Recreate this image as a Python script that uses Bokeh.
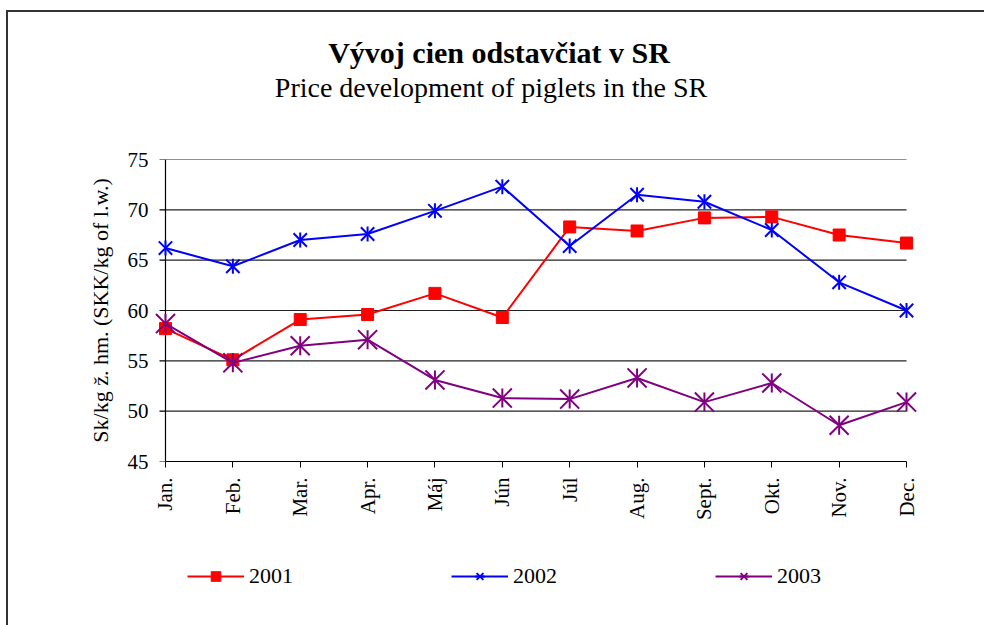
import math
from bokeh.plotting import figure
from bokeh.layouts import column
from bokeh.models import (Range1d, FixedTicker, LinearAxis, Legend, LegendItem,
                          Div, ColumnDataSource)
from bokeh.embed import file_html
from bokeh.resources import INLINE

# ---- data ----
months = ["Jan.", "Feb.", "Mar.", "Apr.", "Máj", "Jún", "Júl", "Aug.",
          "Sept.", "Okt.", "Nov.", "Dec."]
y2001 = [58.2, 55.1, 59.1, 59.6, 61.7, 59.3, 68.3, 67.9, 69.2, 69.3, 67.5, 66.7]
y2002 = [66.2, 64.4, 67.0, 67.6, 69.9, 72.3, 66.4, 71.5, 70.8, 68.0, 62.8, 60.0]
y2003 = [58.7, 54.8, 56.5, 57.1, 53.1, 51.3, 51.2, 53.3, 50.9, 52.8, 48.6, 50.9]
y_ticks = [45, 50, 55, 60, 65, 70, 75]
series_names = ["2001", "2002", "2003"]
title_text = "Vývoj cien odstavčiat v SR"
subtitle_text = "Price development of piglets in the SR"
y_label_text = "Sk/kg ž. hm. (SKK/kg of l.w.)"

FONT = "Liberation Serif"
idx = list(range(len(months)))
pad = 0.178       # room so that edge markers are not clipped
tick_len = 0.089  # 6 px in x units

src = ColumnDataSource(dict(x=idx, a=y2001, b=y2002, c=y2003))


def add_series(fig):
    l1 = fig.line("x", "a", source=src, line_color="#FF0000", line_width=2)
    m1 = fig.scatter("x", "a", source=src, marker="square", size=12,
                     fill_color="#FF0000", line_color="#FF0000")
    l2 = fig.line("x", "b", source=src, line_color="#0000FF", line_width=2)
    m2a = fig.scatter("x", "b", source=src, marker="x", size=19, line_color="#0000FF", line_width=2)
    m2b = fig.scatter("x", "b", source=src, marker="dash", size=15, angle=math.pi / 2,
                      line_color="#0000FF", line_width=2)
    l3 = fig.line("x", "c", source=src, line_color="#800080", line_width=2)
    m3a = fig.scatter("x", "c", source=src, marker="x", size=27, line_color="#800080", line_width=2)
    m3b = fig.scatter("x", "c", source=src, marker="dash", size=19, angle=math.pi / 2,
                      line_color="#800080", line_width=2)
    return [[l1, m1], [l2, m2a, m2b], [l3, m3a, m3b]]


# ---- titles ----
title_html = (
    "<div style=\"font-family:'Liberation Serif';color:#000;text-align:center;width:976px;margin:0;padding:0;\">"
    "<div style=\"position:relative;left:3px;margin:0;padding:25px 0 0 0;font-size:30px;"
    f"line-height:31px;font-weight:bold;white-space:nowrap;\">{title_text}</div>"
    "<div style=\"position:relative;left:-5px;margin:5.5px 0 0 0;padding:0;font-size:28px;"
    f"line-height:28px;font-weight:normal;white-space:nowrap;\">{subtitle_text}</div>"
    "</div>"
)
head = Div(text=title_html, width=976, height=137, margin=0)

# ---- main chart ----
p = figure(width=976, height=392, output_backend="svg", toolbar_location=None,
           x_range=Range1d(-pad, len(months) - 1 + pad), y_range=Range1d(45, 75),
           x_axis_location=None, y_axis_location=None,
           min_border_left=145, min_border_right=66,
           min_border_top=10, min_border_bottom=80, margin=0)
p.outline_line_color = None
p.xgrid.visible = False
p.ygrid.visible = False

for v in y_ticks[1:]:
    p.segment(x0=[idx[0]], x1=[idx[-1]], y0=[v], y1=[v], line_color="#222222", line_width=1.2)
p.segment(x0=[idx[0]], x1=[idx[0]], y0=[y_ticks[0]], y1=[y_ticks[-1]], line_color="black", line_width=1.2)
p.segment(x0=[idx[0] - tick_len] * len(y_ticks), x1=[idx[0]] * len(y_ticks),
          y0=y_ticks, y1=y_ticks, line_color="black", line_width=1.2)

xaxis = LinearAxis(ticker=FixedTicker(ticks=idx), bounds=(idx[0], idx[-1]),
                   major_label_overrides={i: m for i, m in zip(idx, months)})
xaxis.major_label_orientation = math.pi / 2
xaxis.axis_line_color = "black"
xaxis.axis_line_width = 1.2
xaxis.major_tick_line_color = "black"
xaxis.major_tick_in = 0
xaxis.major_tick_out = 6
xaxis.major_label_standoff = 10

yaxis = LinearAxis(ticker=FixedTicker(ticks=y_ticks), axis_label=y_label_text)
yaxis.axis_line_color = None
yaxis.major_tick_line_color = None
yaxis.major_tick_in = 0
yaxis.major_tick_out = 0
yaxis.major_label_standoff = 5
yaxis.axis_label_standoff = 12
yaxis.axis_label_text_font = FONT
yaxis.axis_label_text_font_style = "normal"
yaxis.axis_label_text_font_size = "22px"
yaxis.axis_label_text_color = "black"

for ax in (xaxis, yaxis):
    ax.minor_tick_line_color = None
    ax.major_label_text_font = FONT
    ax.major_label_text_font_size = "21px"
    ax.major_label_text_color = "black"
p.add_layout(xaxis, "below")
p.add_layout(yaxis, "left")

add_series(p)

# ---- legend strip (same series; its ranges keep the data out of view) ----
pl = figure(width=976, height=84, output_backend="svg", toolbar_location=None,
            x_range=Range1d(100, 101), y_range=Range1d(100, 101),
            x_axis_location=None, y_axis_location=None,
            min_border=0, margin=0)
pl.outline_line_color = None
pl.xgrid.visible = False
pl.ygrid.visible = False
groups = add_series(pl)

legend = Legend(items=[LegendItem(label=n, renderers=g) for n, g in zip(series_names, groups)],
                orientation="horizontal", location=(34, 36))
legend.border_line_color = None
legend.background_fill_alpha = 0
legend.padding = 0
legend.margin = 0
legend.spacing = 158
legend.glyph_width = 57
legend.glyph_height = 24
legend.label_height = 24
legend.label_standoff = 5
legend.label_text_font = FONT
legend.label_text_font_size = "22px"
legend.label_text_color = "black"
pl.add_layout(legend)

page = column(head, p, pl, spacing=0)
page.margin = (10, 0, 0, 6)
page.styles = {"border-top": "2px solid #333333", "border-left": "2px solid #333333"}

open("out.html", "w").write(file_html(page, INLINE))
